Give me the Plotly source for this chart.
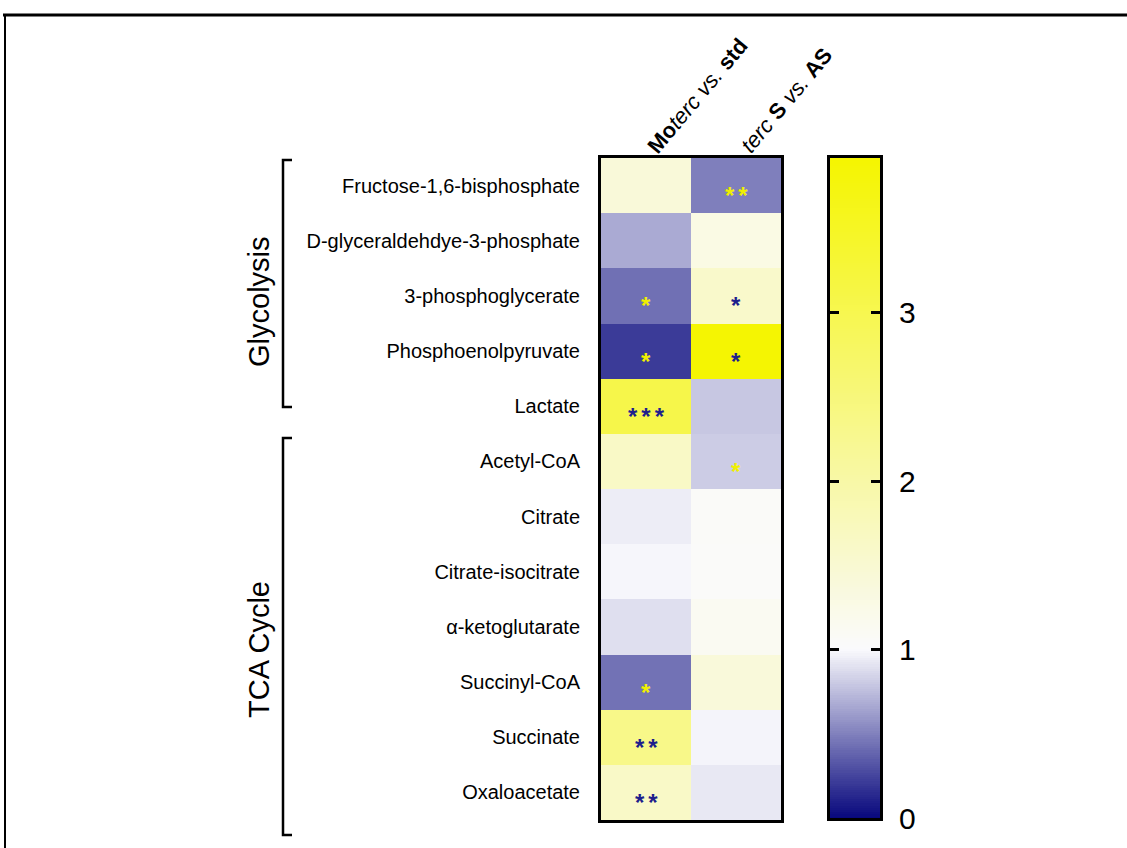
import numpy as np
import plotly.graph_objects as go

W, H = 1127, 848

# ---------------- data ----------------
metabolites = [
    "Fructose-1,6-bisphosphate",
    "D-glyceraldehdye-3-phosphate",
    "3-phosphoglycerate",
    "Phosphoenolpyruvate",
    "Lactate",
    "Acetyl-CoA",
    "Citrate",
    "Citrate-isocitrate",
    "α-ketoglutarate",
    "Succinyl-CoA",
    "Succinate",
    "Oxaloacetate",
]
moterc_vs_std = [1.42, 0.67, 0.43, 0.21, 3.07, 1.63, 0.945, 0.985, 0.89, 0.44, 2.34, 1.62]
terc_s_vs_as = [0.49, 1.29, 1.58, 3.90, 0.79, 0.81, 1.06, 1.05, 1.13, 1.40, 0.975, 0.925]
sig_moterc = ["", "", "*", "*", "***", "", "", "", "", "*", "**", "**"]
sig_terc = ["**", "", "*", "*", "", "*", "", "", "", "", "", ""]
column_labels = [
    "<b>Mo</b><i>terc vs.</i> <b>std</b>",
    "<i>terc</i> <b>S</b> <i>vs.</i> <b>AS</b>",
]
groups = ["Glycolysis", "TCA Cycle"]
colorbar_ticks = [0, 1, 2, 3]
ZMIN, ZMAX = 0.0, 3.92

# ---------------- styling ----------------
colorscale = [
    [0.0, "rgb(8,8,125)"],
    [1.0 / ZMAX, "rgb(250,250,253)"],
    [1.0, "rgb(245,245,0)"],
]
NAVY = "rgb(30,30,140)"
YELLOW = "rgb(240,240,0)"
FONT = "Liberation Sans, Arial, sans-serif"


def fx(px):
    return px / W


def fy(py):
    return 1 - py / H


fig = go.Figure()

# main heatmap
z = [[a, b] for a, b in zip(moterc_vs_std, terc_s_vs_as)]
fig.add_trace(go.Heatmap(
    z=z, x=[0, 1], y=list(range(len(metabolites))),
    colorscale=colorscale, zmin=ZMIN, zmax=ZMAX, showscale=False,
    xaxis="x", yaxis="y", hoverinfo="skip",
))

# colour scale bar drawn as a heatmap on its own axes
grad = np.linspace(ZMIN, ZMAX, 300)
fig.add_trace(go.Heatmap(
    z=[[v] for v in grad], x=[0], y=grad,
    colorscale=colorscale, zmin=ZMIN, zmax=ZMAX, showscale=False,
    xaxis="x2", yaxis="y2", hoverinfo="skip",
))

annotations = []
# significance stars
for ci, (vals, sigs) in enumerate([(moterc_vs_std, sig_moterc), (terc_s_vs_as, sig_terc)]):
    for ri, (v, s) in enumerate(zip(vals, sigs)):
        if not s:
            continue
        annotations.append(dict(
            x=ci, y=ri, xref="x", yref="y", text="<b>" + "\u2006".join(s) + "</b>",
            showarrow=False,
            font=dict(family=FONT, size=24, color=YELLOW if v < 1 else NAVY),
            yshift=-10,
        ))

# column headers
for cx, cy, txt in zip([698, 786], [96, 100], column_labels):
    annotations.append(dict(
        x=fx(cx), y=fy(cy), xref="paper", yref="paper", text=txt, showarrow=False,
        textangle=-50, xanchor="center", yanchor="middle",
        font=dict(family=FONT, size=22, color="black"),
    ))

# group labels
for gy, g in zip([302, 650], groups):
    annotations.append(dict(
        x=fx(259), y=fy(gy), xref="paper", yref="paper", text=g, showarrow=False,
        textangle=-90, xanchor="center", yanchor="middle",
        font=dict(family=FONT, size=29, color="black"),
    ))

shapes = []
# brackets
for top, bot in [(160, 407), (438, 835)]:
    shapes.append(dict(
        type="path", xref="paper", yref="paper",
        path=f"M {fx(292)},{fy(top)} L {fx(283)},{fy(top)} L {fx(283)},{fy(bot)} L {fx(292)},{fy(bot)}",
        line=dict(color="black", width=2.5),
    ))
# frame of the figure panel
shapes.append(dict(type="line", xref="paper", yref="paper",
                   x0=fx(3), x1=1, y0=fy(15), y1=fy(15), line=dict(color="black", width=3)))
shapes.append(dict(type="line", xref="paper", yref="paper",
                   x0=fx(5), x1=fx(5), y0=fy(15), y1=0, line=dict(color="black", width=2)))

axis_common = dict(showgrid=False, zeroline=False, showline=True, linecolor="black",
                   linewidth=3, mirror=True, automargin=False)

fig.update_layout(
    width=W, height=H, autosize=False,
    margin=dict(l=0, r=0, t=0, b=0, pad=0),
    paper_bgcolor="white", plot_bgcolor="white",
    xaxis=dict(domain=[fx(601), fx(781)], range=[-0.5, 1.5], showticklabels=False,
               ticks="", **axis_common),
    yaxis=dict(domain=[fy(820), fy(158)], range=[len(metabolites) - 0.5, -0.5],
               tickvals=list(range(len(metabolites))), ticktext=metabolites,
               ticks="", ticklabelstandoff=14,
               tickfont=dict(family=FONT, size=20, color="black"), **axis_common),
    xaxis2=dict(domain=[fx(830), fx(880)], range=[-0.5, 0.5], showticklabels=False,
                ticks="", anchor="y2", **axis_common),
    yaxis2=dict(domain=[fy(818), fy(158)], range=[ZMIN, ZMAX], anchor="x2", side="right",
                tickvals=colorbar_ticks, ticks="inside", ticklen=9, tickwidth=2.5,
                tickcolor="black", ticklabelstandoff=10,
                tickfont=dict(family=FONT, size=30, color="black"),
                showgrid=False, zeroline=False, showline=True, linecolor="black",
                linewidth=3, mirror="ticks", automargin=False),
    annotations=annotations,
    shapes=shapes,
    showlegend=False,
)

fig.write_html(
    "out.html",
    config={"displayModeBar": False, "responsive": False},
    post_script=(
        "document.documentElement.style.overflow='hidden';"
        "document.body.style.overflow='hidden';"
        "document.body.style.margin='0';"
    ),
)
